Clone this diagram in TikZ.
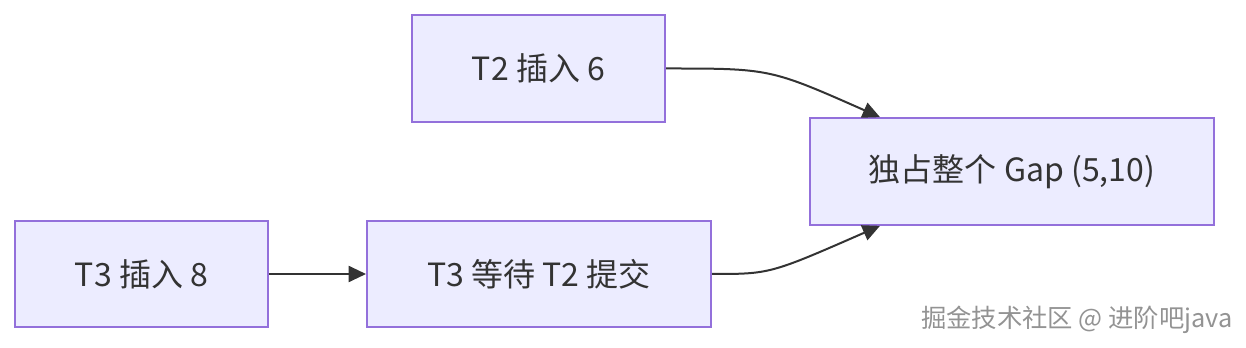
\documentclass[tikz,border=0pt]{standalone}
\usepackage{fontspec}
\setmainfont{Noto Sans CJK SC}
\usetikzlibrary{arrows.meta,calc}
\definecolor{boxfill}{HTML}{ECECFF}
\definecolor{boxline}{HTML}{9370DB}
\definecolor{edgeline}{HTML}{333333}
\tikzset{
  stepbox/.style={draw=boxline, fill=boxfill, line width=1.5pt, align=center,
    minimum height=80pt, inner sep=0pt, font=\fontsize{24}{28}\selectfont, text=edgeline},
  flow/.style={draw=edgeline, line width=1.5pt, -{Triangle[length=13pt,width=12pt]}}
}
\begin{document}
\begin{tikzpicture}[x=0.75pt, y=-0.75pt]
\useasboundingbox (0,0) rectangle (1246,348);
\node[stepbox, minimum width=190pt] (t2ins) at (538.5,68.5) {T2 插入 6};
\node[stepbox, minimum width=303pt] (gap) at (1012,171.5) {独占整个 Gap (5,10)};
\node[stepbox, minimum width=190pt] (t3ins) at (141.5,274) {T3 插入 8};
\node[stepbox, minimum width=258pt] (t3wait) at (539,274) {T3 等待 T2 提交};
\draw[flow] (t2ins.east) .. controls (770,68.5) .. ($(gap.north)+(-132,0)$);
\draw[flow] (t3wait.east) .. controls (770,274) .. ($(gap.south)+(-132,0)$);
\draw[flow] (t3ins) -- (t3wait);
\node[text=gray!85, font=\fontsize{19}{22}\selectfont] (mark) at (1077,320) {掘金技术社区 @ 进阶吧java};
\end{tikzpicture}
\end{document}
